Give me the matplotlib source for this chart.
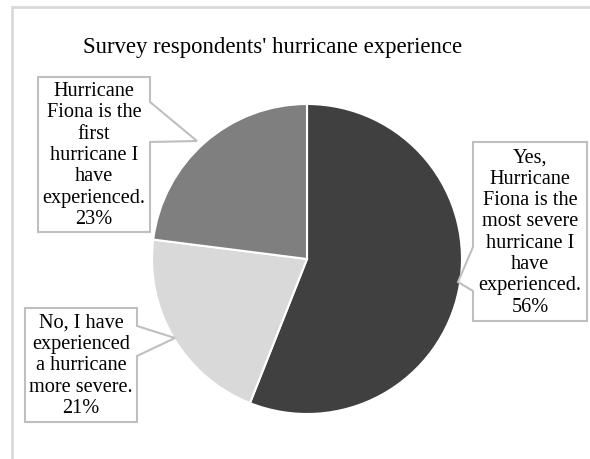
import matplotlib
matplotlib.use("Agg")
import matplotlib.pyplot as plt
from matplotlib.patches import Polygon, Rectangle

labels = ["Yes,\nHurricane\nFiona is the\nmost severe\nhurricane I\nhave\nexperienced.",
          "No, I have\nexperienced\na hurricane\nmore severe.",
          "Hurricane\nFiona is the\nfirst\nhurricane I\nhave\nexperienced."]
values = [56, 21, 23]
colors = ["#404040", "#d9d9d9", "#7f7f7f"]
title = "Survey respondents' hurricane experience"

W, H = 590, 460
plt.rcParams['font.family'] = ['Liberation Serif', 'DejaVu Serif']
fig = plt.figure(figsize=(W / 100, H / 100), dpi=100)
ax = fig.add_axes([0, 0, 1, 1])

def Y(y):
    return H - y

cx, cy, r = 307, Y(260), 155
ax.pie(values, colors=colors, startangle=90, counterclock=False, center=(cx, cy), radius=r,
       wedgeprops=dict(edgecolor='white', linewidth=1.5), frame=True)
ax.set_xlim(0, W)
ax.set_ylim(0, H)
ax.set_aspect('equal')
ax.axis('off')

# chart frame
ax.add_patch(Rectangle((12, Y(470)), 600, 462, fill=False, edgecolor="#d9d9d9", lw=2))

ax.text(273, Y(48), title, ha='center', va='center', fontsize=16.4, color='#000000')

# callouts: box (x0, y0, x1, y1), pointer points
callouts = [
    (0, (473, 143, 587, 322), [(473, 248), (458, 283), (473, 292)], 'left'),
    (1, (25, 309, 137, 423), [(137, 327), (175, 339), (137, 357)], 'right'),
    (2, (38, 78, 150, 233), [(150, 103), (197, 142), (150, 143)], 'right'),
]
for idx, (x0, y0, x1, y1), ptr, side in callouts:
    if side == 'right':
        pts = [(x0, y0), (x1, y0), ptr[0], ptr[1], ptr[2], (x1, y1), (x0, y1)]
    else:
        pts = [(x0, y0), (x1, y0), (x1, y1), (x0, y1), ptr[2], ptr[1], ptr[0]]
    pts = [(px, Y(py)) for px, py in pts]
    ax.add_patch(Polygon(pts, closed=True, facecolor='white', edgecolor='#bfbfbf', lw=1.5, zorder=5))
    txt = labels[idx] + "\n%d%%" % values[idx]
    ax.text((x0 + x1) / 2, Y((y0 + y1) / 2), txt, ha='center', va='center',
            multialignment='center', fontsize=14.6, linespacing=1.17, zorder=6, color='#000000')

fig.savefig("out.png", dpi=100, facecolor='white')
